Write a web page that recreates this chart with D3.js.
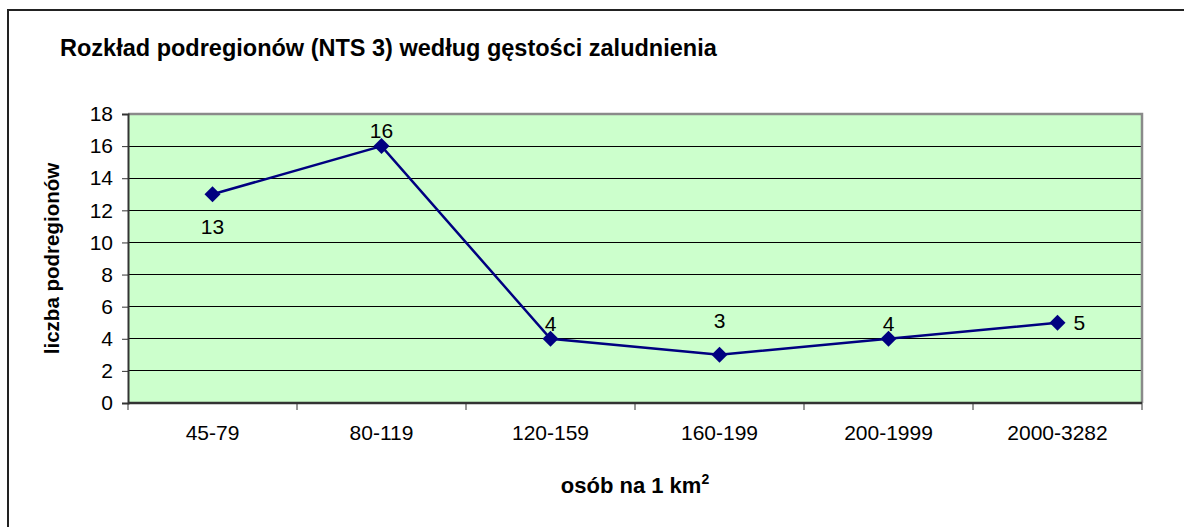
<!DOCTYPE html>
<html>
<head>
<meta charset="utf-8">
<script src="https://cdn.jsdelivr.net/npm/d3@7"></script>
<style>
  body { margin: 0; background: #fff; }
  text { font-family: "Liberation Sans", Arial, sans-serif; fill: #000; }
</style>
</head>
<body>
<div class="chart"></div>
<script>
// chart data
var categories = ["45-79", "80-119", "120-159", "160-199", "200-1999", "2000-3282"];
var counts = [13, 16, 4, 3, 4, 5];
var yTicks = [0, 2, 4, 6, 8, 10, 12, 14, 16, 18];
// where each value label sits relative to its marker
var labelPlace = ["below", "above", "above", "high", "above", "right"];

var svgWidth = 1184, svgHeight = 527;
var margin = {top: 114, right: 42, bottom: 124, left: 128};
var width = svgWidth - margin.left - margin.right,
    height = svgHeight - margin.top - margin.bottom;

var svg = d3.select(".chart")
    .append("svg")
    .attr("width", svgWidth)
    .attr("height", svgHeight);

// outer frame (runs off the right/bottom edge like the original)
svg.append("rect")
    .attr("x", 8).attr("y", 10)
    .attr("width", svgWidth + 20).attr("height", svgHeight + 20)
    .attr("fill", "none")
    .attr("stroke", "#222")
    .attr("stroke-width", 2);

svg.append("text")
    .attr("x", 60).attr("y", 56)
    .style("font-size", "23.5px")
    .style("font-weight", "bold")
    .text("Rozkład podregionów (NTS 3) według gęstości zaludnienia");

var chart = svg.append("g")
    .attr("transform", "translate(" + margin.left + "," + margin.top + ")");

var x = d3.scaleBand().domain(categories).range([0, width]);
var y = d3.scaleLinear().domain([0, 18]).range([height, 0]);

chart.append("rect")
    .attr("width", width).attr("height", height)
    .attr("fill", "#CCFFCC");

// gridlines
chart.append("g")
    .selectAll("line")
    .data(yTicks.filter(function(d) { return d > 0 && d < 18; }))
    .enter().append("line")
    .attr("x1", 0).attr("x2", width)
    .attr("y1", function(d) { return y(d); })
    .attr("y2", function(d) { return y(d); })
    .attr("stroke", "#000")
    .attr("stroke-width", 1)
    .attr("shape-rendering", "crispEdges");

// top and right plot border
chart.append("path")
    .attr("d", "M0," + y(18) + "H" + width + "V" + height)
    .attr("fill", "none")
    .attr("stroke", "#8a8a8a")
    .attr("stroke-width", 2.5);

// y axis
var yAxis = d3.axisLeft(y).tickValues(yTicks).tickSize(6).tickPadding(9);
var gy = chart.append("g").call(yAxis);
gy.select(".domain").attr("stroke", "#333").attr("stroke-width", 2);
gy.selectAll(".tick line").attr("stroke", "#333");
gy.selectAll(".tick text").style("font-size", "21px").attr("fill", "#000");

// x axis with ticks on category boundaries
var gx = chart.append("g")
    .attr("transform", "translate(0," + height + ")");
gx.append("line")
    .attr("x1", 0).attr("x2", width)
    .attr("stroke", "#333").attr("stroke-width", 2.5);
gx.selectAll(".bound")
    .data(d3.range(categories.length + 1))
    .enter().append("line")
    .attr("class", "bound")
    .attr("x1", function(i) { return i * x.step(); })
    .attr("x2", function(i) { return i * x.step(); })
    .attr("y1", 0).attr("y2", 7)
    .attr("stroke", "#333");
gx.selectAll(".lbl")
    .data(categories)
    .enter().append("text")
    .attr("class", "lbl")
    .attr("x", function(d) { return x(d) + x.bandwidth() / 2; })
    .attr("y", 37)
    .attr("text-anchor", "middle")
    .style("font-size", "21px")
    .text(function(d) { return d; });

// axis titles
svg.append("text")
    .attr("transform", "translate(59," + (margin.top + height / 2) + ") rotate(-90)")
    .attr("text-anchor", "middle")
    .style("font-size", "20.5px")
    .style("font-weight", "bold")
    .text("liczba podregionów");

var xt = svg.append("text")
    .attr("x", margin.left + width / 2)
    .attr("y", 493)
    .attr("text-anchor", "middle")
    .style("font-size", "22px")
    .style("font-weight", "bold");
xt.append("tspan").text("osób na 1 km");
xt.append("tspan").attr("dy", -9).style("font-size", "14px").text("2");

// series
var data = categories.map(function(c, i) { return {cat: c, val: counts[i], place: labelPlace[i]}; });
var cx = function(d) { return x(d.cat) + x.bandwidth() / 2; };

var line = d3.line()
    .x(cx)
    .y(function(d) { return y(d.val); });

chart.append("path")
    .datum(data)
    .attr("fill", "none")
    .attr("stroke", "#000080")
    .attr("stroke-width", 2.5)
    .attr("d", line);

chart.selectAll(".marker")
    .data(data)
    .enter().append("path")
    .attr("class", "marker")
    .attr("transform", function(d) { return "translate(" + cx(d) + "," + y(d.val) + ")"; })
    .attr("d", "M0,-8L8,0L0,8L-8,0Z")
    .attr("fill", "#000080");

chart.selectAll(".vlabel")
    .data(data)
    .enter().append("text")
    .attr("class", "vlabel")
    .attr("x", function(d) { return cx(d) + (d.place === "right" ? 16 : 0); })
    .attr("y", function(d) {
        if (d.place === "below") return y(d.val) + 40;
        if (d.place === "right") return y(d.val) + 7;
        if (d.place === "high") return y(d.val) - 27;
        return y(d.val) - 8;
    })
    .attr("text-anchor", function(d) { return d.place === "right" ? "start" : "middle"; })
    .style("font-size", "21px")
    .text(function(d) { return d.val; });
</script>
</body>
</html>
